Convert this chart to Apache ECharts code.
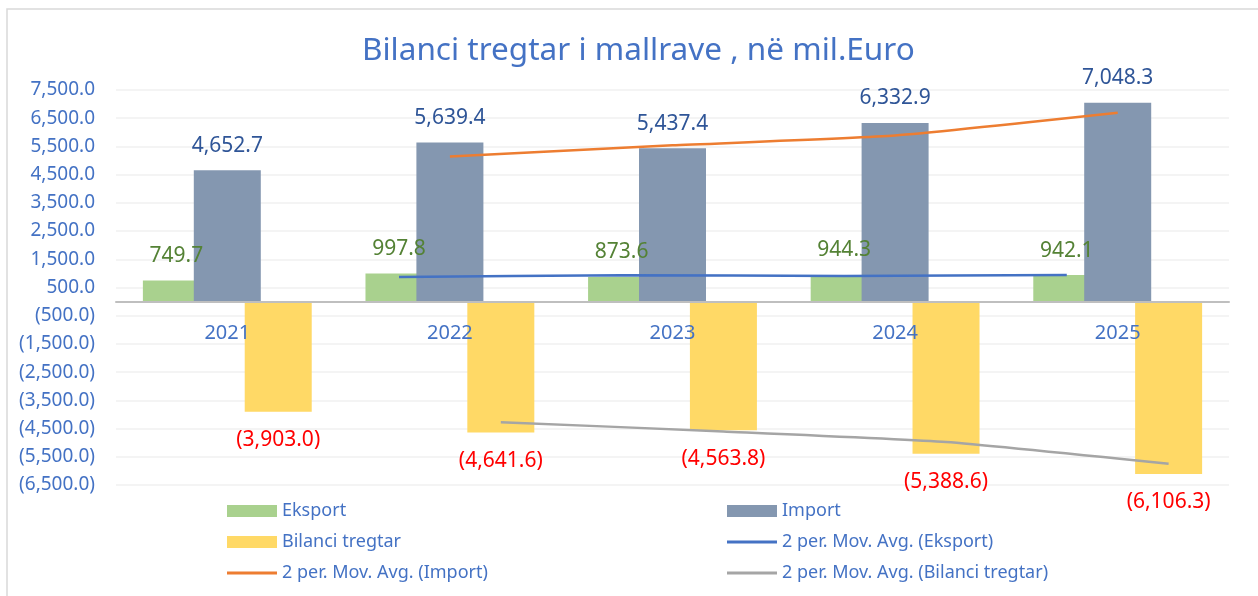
<!DOCTYPE html>
<html>
<head>
<meta charset="utf-8">
<title>Bilanci tregtar</title>
<script src="https://cdn.jsdelivr.net/npm/echarts@6/dist/echarts.min.js"></script>
<style>
  html, body { margin: 0; padding: 0; background: #fff; }
  #chart { width: 1258px; height: 596px; }
</style>
</head>
<body>
<div id="chart"></div>
<script>
// te dhenat
var years = ['2021', '2022', '2023', '2024', '2025'];
var eksport = [749.7, 997.8, 873.6, 944.3, 942.1];
var importi = [4652.7, 5639.4, 5437.4, 6332.9, 7048.3];
var bilanci = [-3903.0, -4641.6, -4563.8, -5388.6, -6106.3];
// mesataret levizese (2 periudha), nga viti 2022
var maEksport = [873.8, 935.7, 909.0, 943.2];
var maImport = [5146.1, 5538.4, 5885.2, 6690.6];
var maBilanci = [-4272.3, -4602.7, -4976.2, -5747.5];
var yMin = -6500, yMax = 7500, yStep = 1000;

var FONT = 'Noto Sans';
var gridLeft = 116, gridRight = 29, gridTop = 90, gridBottom = 111;
var barW = 67, barGap = -0.24;
var catW = (1258 - gridLeft - gridRight) / years.length;
var step = barW * (1 + barGap) / catW; // zhvendosja e shtyllave ne njesi kategorie
var plotH = 596 - gridTop - gridBottom;
var zeroOffset = plotH * (0 - yMin) / (yMax - yMin); // boshti i viteve mbi vijen zero

function fmt(v) {
  var s = Math.abs(v).toLocaleString('en-US', {minimumFractionDigits: 1, maximumFractionDigits: 1});
  return v < 0 ? '(' + s + ')' : s;
}

function maPoints(arr, off) {
  return arr.map(function (v, i) { return [i + 1 + off, v]; });
}

var lineIcon = 'path://M0,0 L50,0 L50,3 L0,3 Z';

var chart = echarts.init(document.getElementById('chart'));
var option = {
  animation: false,
  backgroundColor: '#fff',
  textStyle: { fontFamily: FONT },
  graphic: [{
    type: 'rect',
    shape: { x: 7, y: 9, width: 1270, height: 620 },
    style: { fill: 'none', stroke: '#d9d9d9', lineWidth: 1.5 },
    silent: true
  }],
  title: {
    text: 'Bilanci tregtar i mallrave , në mil.Euro',
    left: 357,
    top: 30,
    textStyle: { fontFamily: FONT, fontSize: 31.5, fontWeight: 'normal', color: '#4472c4' }
  },
  legend: [{
    orient: 'vertical',
    left: 222,
    top: 497,
    itemWidth: 50,
    itemHeight: 12,
    itemGap: 13,
    textStyle: { fontFamily: FONT, fontSize: 18, color: '#4472c4' },
    data: [
      { name: 'Eksport', icon: 'rect' },
      { name: 'Bilanci tregtar', icon: 'rect' },
      { name: '2 per. Mov. Avg. (Import)', icon: lineIcon }
    ]
  }, {
    orient: 'vertical',
    left: 722,
    top: 497,
    itemWidth: 50,
    itemHeight: 12,
    itemGap: 13,
    textStyle: { fontFamily: FONT, fontSize: 18, color: '#4472c4' },
    data: [
      { name: 'Import', icon: 'rect' },
      { name: '2 per. Mov. Avg. (Eksport)', icon: lineIcon },
      { name: '2 per. Mov. Avg. (Bilanci tregtar)', icon: lineIcon }
    ]
  }],
  grid: { left: gridLeft, right: gridRight, top: gridTop, bottom: gridBottom, containLabel: false },
  xAxis: [{
    type: 'category',
    data: years,
    position: 'bottom',
    offset: -zeroOffset,
    axisLine: { onZero: false, lineStyle: { color: '#bfbfbf', width: 2 } },
    axisTick: { show: false },
    axisLabel: { fontFamily: FONT, fontSize: 20, color: '#4472c4', margin: 22 },
    z: 10
  }, {
    type: 'value',
    min: -0.5,
    max: years.length - 0.5,
    show: false
  }],
  yAxis: {
    type: 'value',
    min: yMin,
    max: yMax,
    interval: yStep,
    axisLine: { show: false },
    axisTick: { show: false },
    splitLine: { lineStyle: { color: '#f0f0f0', width: 1.5 } },
    axisLabel: {
      fontFamily: FONT, fontSize: 19, color: '#4472c4', margin: 21,
      formatter: function (v) { return fmt(v); }
    }
  },
  series: [{
    name: 'Eksport',
    type: 'bar',
    data: eksport,
    barWidth: barW,
    barGap: '-24%',
    itemStyle: { color: '#a9d18e' },
    label: {
      show: true, position: 'top', distance: 14,
      fontFamily: FONT, fontSize: 21, color: '#548235',
      formatter: function (p) { return fmt(p.value); }
    }
  }, {
    name: 'Import',
    type: 'bar',
    data: importi,
    barWidth: barW,
    barGap: '-24%',
    itemStyle: { color: '#8497b0' },
    label: {
      show: true, position: 'top', distance: 14,
      fontFamily: FONT, fontSize: 21, color: '#2f5597',
      formatter: function (p) { return fmt(p.value); }
    }
  }, {
    name: 'Bilanci tregtar',
    type: 'bar',
    data: bilanci,
    barWidth: barW,
    barGap: '-24%',
    itemStyle: { color: '#ffd966' },
    label: {
      show: true, position: 'bottom', distance: 18,
      fontFamily: FONT, fontSize: 21, color: '#ff0000',
      formatter: function (p) { return fmt(p.value); }
    }
  }, {
    name: '2 per. Mov. Avg. (Eksport)',
    type: 'line',
    xAxisIndex: 1,
    data: maPoints(maEksport, -step),
    symbol: 'none',
    smooth: 0.15,
    lineStyle: { color: '#4472c4', width: 2.5 },
    itemStyle: { color: '#4472c4' },
    z: 5
  }, {
    name: '2 per. Mov. Avg. (Import)',
    type: 'line',
    xAxisIndex: 1,
    data: maPoints(maImport, 0),
    symbol: 'none',
    smooth: 0.15,
    lineStyle: { color: '#ed7d31', width: 2.5 },
    itemStyle: { color: '#ed7d31' },
    z: 5
  }, {
    name: '2 per. Mov. Avg. (Bilanci tregtar)',
    type: 'line',
    xAxisIndex: 1,
    data: maPoints(maBilanci, step),
    symbol: 'none',
    smooth: 0.15,
    lineStyle: { color: '#a5a5a5', width: 2.5 },
    itemStyle: { color: '#a5a5a5' },
    z: 5
  }]
};
chart.setOption(option);
</script>
</body>
</html>
